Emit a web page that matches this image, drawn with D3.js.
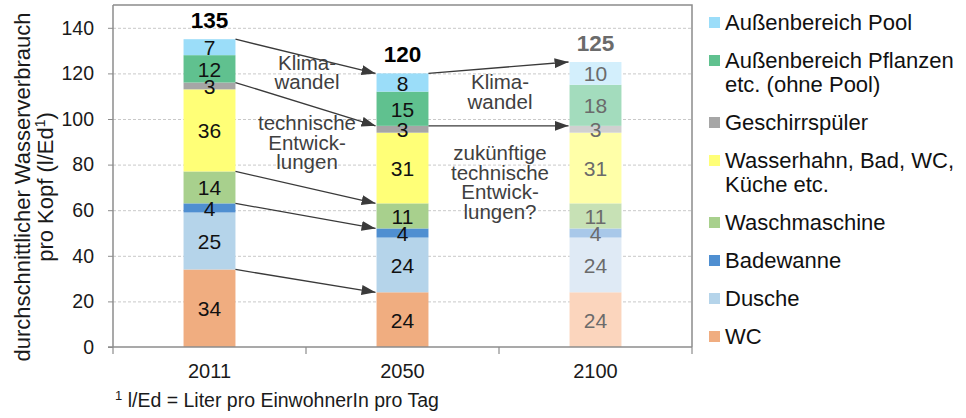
<!DOCTYPE html>
<html>
<head>
<meta charset="utf-8">
<script src="https://cdn.jsdelivr.net/npm/d3@7"></script>
<style>
  html, body { margin: 0; padding: 0; background: #fff; }
  svg { display: block; font-family: "Liberation Sans", Arial, sans-serif; }
</style>
</head>
<body>
<svg id="chart" width="966" height="418"></svg>
<script>
// Years on the x axis
const years = ["2011", "2050", "2100"];

// Consumption categories, bottom of the stack first
const categories = ["WC", "Dusche", "Badewanne", "Waschmaschine",
  "Wasserhahn", "Geschirrspüler", "Pflanzen", "Pool"];

// Legend wording per category (multi-line entries as arrays)
const legendLabels = {
  Pool: ["Außenbereich Pool"],
  Pflanzen: ["Außenbereich Pflanzen", "etc. (ohne Pool)"],
  "Geschirrspüler": ["Geschirrspüler"],
  Wasserhahn: ["Wasserhahn, Bad, WC,", "Küche etc."],
  Waschmaschine: ["Waschmaschine"],
  Badewanne: ["Badewanne"],
  Dusche: ["Dusche"],
  WC: ["WC"]
};

// Litres per inhabitant per day, per category, for each year
const values2011 = [34, 25, 4, 14, 36, 3, 12, 7];
const values2050 = [24, 24, 4, 11, 31, 3, 15, 8];
const values2100 = [24, 24, 4, 11, 31, 3, 18, 10];

// Stated totals above the bars
const totals = [135, 120, 125];

const yTicks = [0, 20, 40, 60, 80, 100, 120, 140];

// Colours: full tone for the measured/forecast years, pale tone for 2100
const colorsFull = {
  WC: "#f0ad80", Dusche: "#b5d4ea", Badewanne: "#4f8fd1", Waschmaschine: "#a8d08d",
  Wasserhahn: "#ffff77", "Geschirrspüler": "#a6a6a6", Pflanzen: "#60c18f", Pool: "#9bddf9"
};
const colorsPale = {
  WC: "#fbd5bd", Dusche: "#dfeaf5", Badewanne: "#a8c8e9", Waschmaschine: "#c7e1b5",
  Wasserhahn: "#ffffa8", "Geschirrspüler": "#d0d0d0", Pflanzen: "#a3dcbd", Pool: "#d3effc"
};

// Change arrows: from year, to year, and the category whose upper edge they join
const arrows = [
  ["2011", "2050", "Pool"],
  ["2011", "2050", "Geschirrspüler"],
  ["2011", "2050", "Waschmaschine"],
  ["2011", "2050", "Badewanne"],
  ["2011", "2050", "WC"],
  ["2050", "2100", "Pool"],
  ["2050", "2100", "Geschirrspüler"]
];

// Annotation texts placed between the bars (between-years, value level, lines)
const notes = [
  ["2011", "2050", 121.5, ["Klima-", "wandel"]],
  ["2011", "2050", 95, ["technische", "Entwick-", "lungen"]],
  ["2050", "2100", 113, ["Klima-", "wandel"]],
  ["2050", "2100", 82, ["zukünftige", "technische", "Entwick-", "lungen?"]]
];

const valuesByYear = { "2011": values2011, "2050": values2050, "2100": values2100 };

const table = years.map(y => {
  const row = { year: y };
  categories.forEach((c, i) => row[c] = valuesByYear[y][i]);
  return row;
});

const svg = d3.select("#chart");
const plot = { left: 113, right: 692, top: 5, bottom: 347 };

const x = d3.scaleBand().domain(years).range([plot.left, plot.right])
  .paddingInner(0.731).paddingOuter(0.3655);
const y = d3.scaleLinear().domain([0, 150]).range([plot.bottom, plot.top]);

const stacked = d3.stack().keys(categories)(table);
const levelOf = (year, key) => {
  const s = stacked.find(l => l.key === key);
  return s.find(d => d.data.year === year)[1];
};

// Grid lines
svg.append("g").selectAll("line").data(yTicks.filter(t => t > 0)).join("line")
  .attr("x1", plot.left).attr("x2", plot.right)
  .attr("y1", d => y(d) + 0.5).attr("y2", d => y(d) + 0.5)
  .attr("stroke", "#c9c9c9").attr("stroke-width", 1).attr("stroke-dasharray", "3,2");

// Plot frame (top and right)
svg.append("path")
  .attr("d", `M${plot.left},${plot.top}H${plot.right}V${plot.bottom}`)
  .attr("fill", "none").attr("stroke", "#8c8c8c").attr("stroke-width", 1.5);

// Bars
const isPale = yr => yr === "2100";
svg.append("g").selectAll("g").data(stacked).join("g")
  .selectAll("rect").data(d => d.map(p => ({ key: d.key, p })))
  .join("rect")
  .attr("x", d => x(d.p.data.year))
  .attr("width", x.bandwidth())
  .attr("y", d => y(d.p[1]))
  .attr("height", d => y(d.p[0]) - y(d.p[1]))
  .attr("fill", d => (isPale(d.p.data.year) ? colorsPale : colorsFull)[d.key]);

// Segment value labels
svg.append("g").selectAll("g").data(stacked).join("g")
  .selectAll("text").data(d => d.map(p => ({ key: d.key, p })))
  .join("text")
  .attr("x", d => x(d.p.data.year) + x.bandwidth() / 2)
  .attr("y", d => (y(d.p[0]) + y(d.p[1])) / 2 + 8)
  .attr("text-anchor", "middle")
  .attr("font-size", 21)
  .attr("fill", d => isPale(d.p.data.year) ? "#6b6b6b" : "#111")
  .text(d => d.p[1] - d.p[0]);

// Totals
svg.append("g").selectAll("text").data(years).join("text")
  .attr("x", d => x(d) + x.bandwidth() / 2)
  .attr("y", (d, i) => y(totals[i]) - 11)
  .attr("text-anchor", "middle")
  .attr("font-size", 22.5).attr("font-weight", "bold")
  .attr("fill", d => isPale(d) ? "#6b6b6b" : "#000")
  .text((d, i) => totals[i]);

// Arrow head marker
svg.append("defs").append("marker")
  .attr("id", "head").attr("viewBox", "0 0 14 10")
  .attr("refX", 14).attr("refY", 5)
  .attr("markerWidth", 14).attr("markerHeight", 10)
  .attr("markerUnits", "userSpaceOnUse")
  .attr("orient", "auto")
  .append("path").attr("d", "M0,0L14,5L0,10Z").attr("fill", "#3a3a3a");

svg.append("g").selectAll("line").data(arrows).join("line")
  .attr("x1", d => x(d[0]) + x.bandwidth())
  .attr("y1", d => y(levelOf(d[0], d[2])))
  .attr("x2", d => x(d[1]) - 1)
  .attr("y2", d => y(levelOf(d[1], d[2])))
  .attr("stroke", "#3a3a3a").attr("stroke-width", 1.3)
  .attr("marker-end", "url(#head)");

// Annotations
const noteG = svg.append("g");
notes.forEach(([a, b, v, lines]) => {
  const cx = (x(a) + x(b) + x.bandwidth()) / 2 + 1;
  const t = noteG.append("text")
    .attr("x", cx).attr("y", y(v))
    .attr("text-anchor", "middle").attr("font-size", 20.5).attr("fill", "#404040");
  lines.forEach((ln, i) => t.append("tspan").attr("x", cx).attr("dy", i === 0 ? 0 : 19.5).text(ln));
});

// Y axis
const yAxis = svg.append("g").attr("transform", `translate(${plot.left},0)`)
  .call(d3.axisLeft(y).tickValues(yTicks).tickSize(5).tickPadding(14));
yAxis.select(".domain").attr("stroke", "#8c8c8c").attr("stroke-width", 1.5)
  .attr("d", `M0,${plot.top}V${plot.bottom}`);
yAxis.selectAll(".tick line").attr("stroke", "#8c8c8c");
yAxis.selectAll(".tick text").attr("font-size", 19.5).attr("fill", "#1a1a1a")
  .attr("font-family", "Liberation Sans, Arial, sans-serif");

// X axis
const xAxis = svg.append("g").attr("transform", `translate(0,${plot.bottom})`)
  .call(d3.axisBottom(x).tickSize(0).tickPadding(17));
xAxis.select(".domain").attr("stroke", "#8c8c8c").attr("stroke-width", 1.5)
  .attr("d", `M${plot.left - 5},0H${plot.right}`);
xAxis.selectAll(".tick text").attr("font-size", 20).attr("fill", "#1a1a1a")
  .attr("font-family", "Liberation Sans, Arial, sans-serif");
// category separators below the axis
const bounds = years.map(yr => x(yr) - x.step() * x.paddingInner() / 2)
  .concat([plot.right]);
bounds[0] = plot.left;
xAxis.append("g").selectAll("line").data(bounds).join("line")
  .attr("x1", d => d).attr("x2", d => d).attr("y1", 0).attr("y2", 7)
  .attr("stroke", "#8c8c8c").attr("stroke-width", 1.2);

// Y axis title
const title = svg.append("text")
  .attr("transform", "translate(30,187) rotate(-90)")
  .attr("text-anchor", "middle").attr("font-size", 22).attr("fill", "#1a1a1a");
title.append("tspan").attr("x", 0).attr("dy", 0).text("durchschnittlicher Wasserverbrauch");
title.append("tspan").attr("x", 0).attr("dy", 23).text("pro Kopf (l/Ed");
title.append("tspan").attr("font-size", 14).attr("dy", -8).text("1");
title.append("tspan").attr("dy", 8).text(")");

// Footnote
const foot = svg.append("text").attr("x", 115).attr("y", 407)
  .attr("font-size", 19.5).attr("fill", "#1a1a1a");
foot.append("tspan").attr("font-size", 13).attr("dy", -7).text("1");
foot.append("tspan").attr("dy", 7).text(" l/Ed = Liter pro EinwohnerIn pro Tag");

// Legend
const legendKeys = categories.slice().reverse();
let ly = 22;
const legend = svg.append("g");
legendKeys.forEach(k => {
  const lines = legendLabels[k];
  legend.append("rect").attr("x", 709).attr("y", ly - 5).attr("width", 11).attr("height", 11)
    .attr("fill", colorsFull[k]);
  const t = legend.append("text").attr("x", 725).attr("y", ly + 7.5)
    .attr("font-size", 22).attr("fill", "#111");
  lines.forEach((ln, i) => t.append("tspan").attr("x", 725).attr("dy", i === 0 ? 0 : 24).text(ln));
  ly += 38 + (lines.length - 1) * 24;
});
</script>
</body>
</html>
